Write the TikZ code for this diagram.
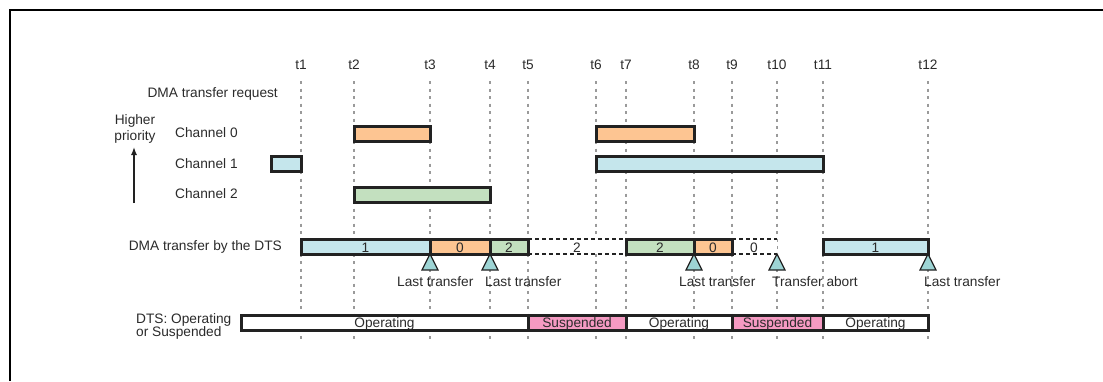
\documentclass[tikz,border=0pt]{standalone}
\usepackage{fontspec}
\setmainfont{Liberation Sans}
\usetikzlibrary{arrows.meta}
\definecolor{txt}{HTML}{2B2B2B}
\definecolor{edge}{HTML}{222222}
\definecolor{cblue}{HTML}{C5E6EC}
\definecolor{corange}{HTML}{FDC592}
\definecolor{cgreen}{HTML}{C3E0BF}
\definecolor{cpink}{HTML}{F59AC2}
\definecolor{ctri}{HTML}{9DD4D4}
\definecolor{gridc}{HTML}{9A9A9A}
\tikzset{
  lbl/.style={text=txt, inner sep=0pt, font=\fontsize{13.7bp}{16bp}\selectfont},
  gridline/.style={draw=gridc, line width=1.2bp, dash pattern=on 3bp off 4.5bp},
  bar/.style={draw=edge, line width=3bp},
  dbar/.style={draw=edge, line width=1.2bp, dash pattern=on 4bp off 3bp},
  tri/.style={draw=edge, line width=1.2bp, fill=ctri, line join=miter},
}
\begin{document}
\begin{tikzpicture}[x=1bp,y=-1bp]
\useasboundingbox (0,0) rectangle (1103,381);
\fill[white] (0,0) rectangle (1103,381);
% frame
\draw[line width=2bp] (10,381) -- (10,10) -- (1103,10);
% time labels and grid lines
\foreach \n/\x in {1/301,2/354,3/430,4/490,5/528,6/596,7/626,8/694,9/732,10/777,11/823,12/928}{
  \node[lbl, anchor=base] (t\n) at (\x,69) {t\n};
  \coordinate (gt\n) at (\x,81);
  \coordinate (gb\n) at (\x,342);
  \draw[gridline] (gt\n) -- (gb\n);
}
% row labels
\node[lbl, anchor=base east] (req) at (278,97) {DMA transfer request};
\node[lbl, anchor=base] (hi1) at (135,124) {Higher};
\node[lbl, anchor=base] (hi2) at (135,140) {priority};
\coordinate (arrb) at (134,203);
\coordinate (arrt) at (134,147);
\draw[edge, line width=1.3bp, -{Latex[length=8bp,width=6bp]}] (arrb) -- (arrt);
\node[lbl, anchor=base west] (ch0) at (175,137) {Channel 0};
\node[lbl, anchor=base west] (ch1) at (175,168) {Channel 1};
\node[lbl, anchor=base west] (ch2) at (175,198) {Channel 2};
\node[lbl, anchor=base east] (dts) at (282,250) {DMA transfer by the DTS};
\node[lbl, anchor=base west] (st1) at (136,323) {DTS: Operating};
\node[lbl, anchor=base west] (st2) at (136,336) {or Suspended};
% request bars
\draw[bar, fill=corange] (354,126) rectangle (430,141);
\draw[bar, fill=corange] (596,126) rectangle (694,141);
\draw[bar, fill=cblue] (271,156) rectangle (301,171);
\draw[bar, fill=cblue] (596,156) rectangle (823,171);
\draw[bar, fill=cgreen] (354,187) rectangle (490,202);
% DTS transfer bar
\fill[white] (528,239) rectangle (626,254);
\draw[dbar] (528,239) -- (626,239) (528,254) -- (626,254);
\fill[white] (732,239) rectangle (777,254);
\draw[dbar] (732,239) -- (777,239) (732,254) -- (777,254);
\draw[bar, fill=cblue] (301,239) rectangle (430,254);
\draw[bar, fill=corange] (430,239) rectangle (490,254);
\draw[bar, fill=cgreen] (490,239) rectangle (528,254);
\draw[bar, fill=cgreen] (626,239) rectangle (694,254);
\draw[bar, fill=corange] (694,239) rectangle (732,254);
\draw[bar, fill=cblue] (823,239) rectangle (928,254);
\node[lbl, anchor=base] (d1) at (365.5,252) {1};
\node[lbl, anchor=base] (d2) at (460,252) {0};
\node[lbl, anchor=base] (d3) at (509,252) {2};
\node[lbl, anchor=base] (d4) at (577,252) {2};
\node[lbl, anchor=base] (d5) at (660,252) {2};
\node[lbl, anchor=base] (d6) at (713,252) {0};
\node[lbl, anchor=base] (d7) at (754,252) {0};
\node[lbl, anchor=base] (d8) at (875.5,252) {1};
% triangles
\foreach \x in {430,490,694,777,928}{
  \draw[tri] (\x,254) -- (\x+8,270) -- (\x-8,270) -- cycle;
}
\node[lbl, anchor=base west] (lt1) at (397,286) {Last transfer};
\node[lbl, anchor=base west] (lt2) at (485,286) {Last transfer};
\node[lbl, anchor=base west] (lt3) at (679,286) {Last transfer};
\node[lbl, anchor=base west] (ab) at (772,286) {Transfer abort};
\node[lbl, anchor=base west] (lt4) at (924,286) {Last transfer};
% status bar
\draw[bar, fill=white] (241,315) rectangle (528,330);
\draw[bar, fill=cpink] (528,315) rectangle (626,330);
\draw[bar, fill=white] (626,315) rectangle (732,330);
\draw[bar, fill=cpink] (732,315) rectangle (823,330);
\draw[bar, fill=white] (823,315) rectangle (928,330);
\node[lbl, anchor=base] (s1) at (384.5,327.5) {Operating};
\node[lbl, anchor=base] (s2) at (577,327.5) {Suspended};
\node[lbl, anchor=base] (s3) at (679,327.5) {Operating};
\node[lbl, anchor=base] (s4) at (777.5,327.5) {Suspended};
\node[lbl, anchor=base] (s5) at (875.5,327.5) {Operating};
\end{tikzpicture}
\end{document}
